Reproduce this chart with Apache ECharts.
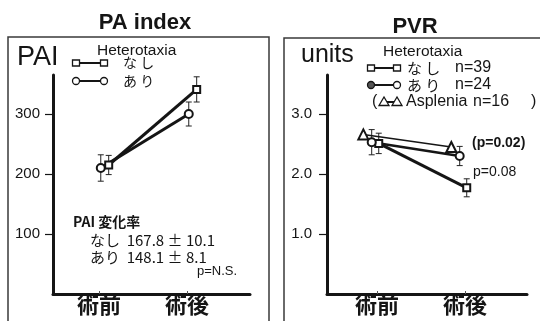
<!DOCTYPE html>
<html><head><meta charset="utf-8">
<script src="https://cdn.jsdelivr.net/npm/echarts@6/dist/echarts.min.js"></script>
<style>html,body{margin:0;padding:0;background:#fff}#c{width:540px;height:321px}</style>
</head><body><div id="c"></div><script>
// ---- data ----
const categories = ['術前', '術後'];
// PA index (PAI)
const paiNashi = [215, 341];
const paiNashiErr = [16, 21];
const paiAri = [210, 300];
const paiAriErr = [22, 20];
const paiTicks = [100, 200, 300];
// PVR (units)
const pvrNashi = [2.51, 1.77];
const pvrNashiErr = [0.17, 0.15];
const pvrAri = [2.53, 2.30];
const pvrAriErr = [0.21, 0.16];
const pvrAsplenia = [2.66, 2.45];
const pvrTicks = [1.0, 2.0, 3.0];

// horizontal dodge of each group around its category (style only)
const dodgeL = { nashi: 0.11, ari: 0.02 };
const dodgeR = { nashi: 0.02, ari: -0.06, asplenia: -0.155 };

const INK = '#151515';
const LAT = "'Liberation Sans', Arial, 'Noto Sans CJK JP', sans-serif";
const JP = "'Noto Sans CJK JP', 'Liberation Sans', sans-serif";

const chart = echarts.init(document.getElementById('c'), null, { renderer: 'canvas' });

function pts(vals, dx) { return vals.map((v, i) => [i + 1 + dx, v]); }
function errPts(vals, errs, dx) { return vals.map((v, i) => [i + 1 + dx, v, errs[i]]); }

function lineSeries(name, vals, dx, symbol, size, width, axis) {
  return {
    name, type: 'line', xAxisIndex: axis, yAxisIndex: axis,
    data: pts(vals, dx), symbol, symbolSize: size, showSymbol: true,
    itemStyle: { color: INK, borderColor: INK, borderWidth: 1.5 },
    lineStyle: { color: INK, width }, z: 3, silent: true, animation: false
  };
}
function errSeries(vals, errs, dx, axis) {
  return {
    type: 'custom', xAxisIndex: axis, yAxisIndex: axis, z: 2, silent: true, animation: false,
    data: errPts(vals, errs, dx),
    renderItem(params, api) {
      const x = api.value(0), y = api.value(1), e = api.value(2);
      const t = api.coord([x, y + e]), b = api.coord([x, y - e]);
      const w = 3;
      const st = { stroke: '#222', lineWidth: 1 };
      return { type: 'group', children: [
        { type: 'line', shape: { x1: t[0], y1: t[1], x2: b[0], y2: b[1] }, style: st },
        { type: 'line', shape: { x1: t[0] - w, y1: t[1], x2: t[0] + w, y2: t[1] }, style: st },
        { type: 'line', shape: { x1: b[0] - w, y1: b[1], x2: b[0] + w, y2: b[1] }, style: st }
      ]};
    }
  };
}

function xAxisDef(grid, min, max) {
  return {
    type: 'value', gridIndex: grid, min, max,
    axisLine: { show: true, onZero: false, lineStyle: { color: INK, width: 3 } },
    axisTick: { show: true, inside: true, length: 3, customValues: [1, 2], lineStyle: { color: '#555', width: 1 } },
    axisLabel: { customValues: [1, 2], formatter: v => categories[Math.round(v) - 1] || '',
      fontFamily: JP, fontWeight: 'bold', fontSize: 22, color: INK, margin: 0 },
    splitLine: { show: false }
  };
}
function yAxisDef(grid, max, ticks, fmt, margin) {
  return {
    type: 'value', gridIndex: grid, min: 0, max,
    axisLine: { show: true, lineStyle: { color: INK, width: 3 } },
    axisTick: { show: true, length: 8, customValues: ticks, lineStyle: { color: INK, width: 1.2 } },
    axisLabel: { customValues: ticks, formatter: fmt, fontFamily: LAT, fontSize: 15, color: INK, margin },
    splitLine: { show: false }
  };
}

// ---- graphic helpers (legend icons, frames, texts) ----
function txt(x, y, s, size, opt) {
  return { type: 'text', x, y, style: Object.assign({ text: s, fontSize: size, fontFamily: LAT,
    fill: INK, verticalAlign: 'middle', align: 'left' }, opt || {}) };
}
function icon(kind, x1, x2, y, filledLeft) {
  const els = [{ type: 'line', shape: { x1, y1: y, x2, y2: y }, style: { stroke: INK, lineWidth: 2 } }];
  [x1, x2].forEach((cx, i) => {
    const fill = (filledLeft && i === 0) ? '#555' : '#fff';
    if (kind === 'rect') els.push({ type: 'rect', shape: { x: cx - 3.5, y: y - 3, width: 7, height: 6 }, style: { fill, stroke: INK, lineWidth: 1.3 } });
    if (kind === 'circle') els.push({ type: 'circle', shape: { cx, cy: y, r: 3.5 }, style: { fill, stroke: INK, lineWidth: 1.3 } });
    if (kind === 'tri') els.push({ type: 'polygon', shape: { points: [[cx, y - 5], [cx - 5, y + 3.5], [cx + 5, y + 3.5]] }, style: { fill: '#fff', stroke: INK, lineWidth: 1.3 } });
  });
  return els;
}

const graphics = [
  // panel frames
  { type: 'rect', shape: { x: 8, y: 37, width: 261, height: 320 }, style: { fill: 'none', stroke: '#3a3a3a', lineWidth: 1.5 }, z: 0 },
  { type: 'rect', shape: { x: 284, y: 38, width: 270, height: 320 }, style: { fill: 'none', stroke: '#3a3a3a', lineWidth: 1.5 }, z: 0 },
  // titles
  txt(145, 23, 'PA index', 22, { fontWeight: 'bold', align: 'center' }),
  txt(415, 27, 'PVR', 22, { fontWeight: 'bold', align: 'center' }),
  // axis names
  txt(17, 58, 'PAI', 27, { fontFamily: "'Liberation Sans Narrow', 'Liberation Sans', sans-serif" }),
  txt(301, 55, 'units', 25),
  // left legend
  txt(97, 51, 'Heterotaxia', 15.5),
  ...icon('rect', 76, 104, 63),
  txt(123, 63, 'な し', 14, { fontFamily: JP }),
  ...icon('circle', 76, 104, 81),
  txt(123, 81, 'あ り', 14, { fontFamily: JP }),
  // left annotation
  txt(73, 222, 'PAI 変化率', 14, { fontFamily: JP, fontWeight: 'bold' }),
  txt(90, 240, 'なし  167.8 ± 10.1', 15, { fontFamily: JP }),
  txt(90, 257, 'あり  148.1 ± 8.1', 15, { fontFamily: JP }),
  txt(197, 271, 'p=N.S.', 13),
  // right legend
  txt(383, 52, 'Heterotaxia', 15.5),
  ...icon('rect', 371, 397, 68),
  txt(407, 68, 'な し', 15, { fontFamily: JP }),
  txt(455, 68, 'n=39', 16),
  ...icon('circle', 371, 397, 85, true),
  txt(407, 85, 'あ り', 15, { fontFamily: JP }),
  txt(455, 85, 'n=24', 16),
  txt(372, 102, '(', 16),
  ...icon('tri', 384, 397, 102),
  txt(406, 102, 'Asplenia', 16),
  txt(473, 102, 'n=16', 16),
  txt(531, 102, ')', 16),
  // right annotations
  txt(472, 143, '(p=0.02)', 14, { fontWeight: 'bold' }),
  txt(473, 172, 'p=0.08', 14)
];

chart.setOption({
  backgroundColor: '#fff',
  animation: false,
  grid: [
    { left: 53, width: 197, top: 75, bottom: 27 },
    { left: 327, width: 200, top: 75, bottom: 27 }
  ],
  xAxis: [xAxisDef(0, 0.477, 2.716), xAxisDef(1, 0.432, 2.705)],
  yAxis: [
    yAxisDef(0, 365, paiTicks, v => String(v), 13),
    yAxisDef(1, 3.65, pvrTicks, v => v.toFixed(1), 15)
  ],
  series: [
    errSeries(paiNashi, paiNashiErr, dodgeL.nashi, 0),
    errSeries(paiAri, paiAriErr, dodgeL.ari, 0),
    lineSeries('なし', paiNashi, dodgeL.nashi, 'emptyRect', 7, 3, 0),
    lineSeries('あり', paiAri, dodgeL.ari, 'emptyCircle', 8, 3, 0),
    errSeries(pvrNashi, pvrNashiErr, dodgeR.nashi, 1),
    errSeries(pvrAri, pvrAriErr, dodgeR.ari, 1),
    lineSeries('Asplenia', pvrAsplenia, dodgeR.asplenia, 'emptyTriangle', 10, 1.5, 1),
    lineSeries('なし n=39', pvrNashi, dodgeR.nashi, 'emptyRect', 7, 3, 1),
    lineSeries('あり n=24', pvrAri, dodgeR.ari, 'emptyCircle', 8, 2.5, 1)
  ],
  graphic: graphics
});
</script></body></html>
